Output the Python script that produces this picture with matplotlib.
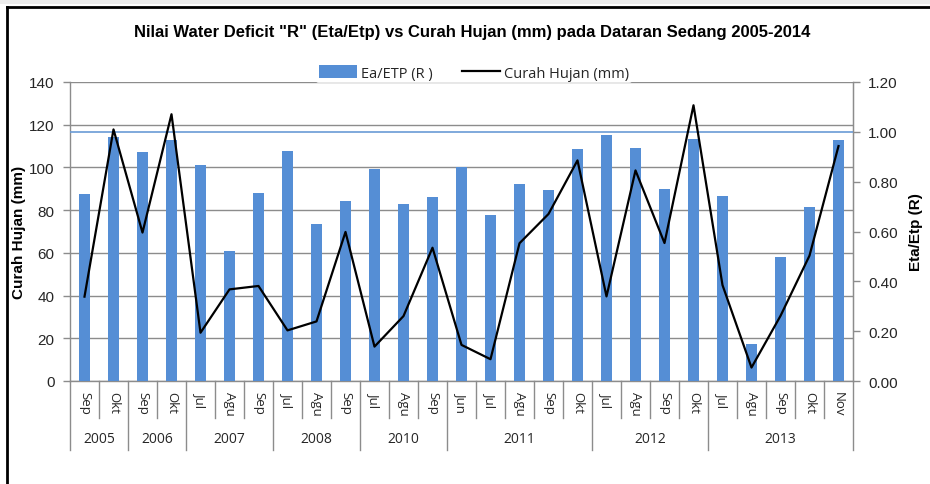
import matplotlib
matplotlib.use("Agg")
import matplotlib.pyplot as plt
from matplotlib.lines import Line2D
from matplotlib.patches import Rectangle
import matplotlib.transforms as mtransforms
import numpy as np

# ---------------- data ----------------
months = ["Sep", "Okt", "Sep", "Okt", "Jul", "Agu", "Sep", "Jul", "Agu", "Sep",
          "Jul", "Agu", "Sep", "Jun", "Jul", "Agu", "Sep", "Okt",
          "Jul", "Agu", "Sep", "Okt", "Jul", "Agu", "Sep", "Okt", "Nov"]
years = ["2005", "2006", "2007", "2008", "2010", "2011", "2012", "2013"]
year_counts = [2, 2, 3, 3, 3, 5, 4, 5]
ratio_R = [0.75, 0.978, 0.92, 0.967, 0.867, 0.523, 0.754, 0.924, 0.631, 0.722,
           0.851, 0.709, 0.74, 0.859, 0.665, 0.792, 0.768, 0.930,
           0.987, 0.935, 0.772, 0.972, 0.743, 0.150, 0.497, 0.699, 0.968]
rain_mm = [39.5, 117.8, 69.5, 124.9, 22.6, 42.9, 44.5, 23.7, 27.9, 69.8,
           16.1, 30.4, 62.4, 16.9, 10.2, 64.5, 78.2, 103.3,
           39.6, 98.6, 64.6, 129.1, 44.9, 6.3, 30.5, 58.7, 110.0]
left_ticks = [0, 20, 40, 60, 80, 100, 120, 140]
right_ticks = [0.0, 0.2, 0.4, 0.6, 0.8, 1.0, 1.2]
ref_R = 1.0

title = 'Nilai Water Deficit "R" (Eta/Etp) vs Curah Hujan (mm) pada Dataran Sedang 2005-2014'

# ---------------- style ----------------
BAR = "#558ED5"
GRID = "#8C8C8C"
TXT = "#262626"
plt.rcParams["font.family"] = ["Liberation Sans", "DejaVu Sans"]

W, H = 930, 485
fig = plt.figure(figsize=(W / 100, H / 100), dpi=100)

L, R_, B, T = 70, 853, 382, 83
ax = fig.add_axes([L / W, 1 - B / H, (R_ - L) / W, (B - T) / H])
ax2 = ax.twinx()
ax3 = ax.twinx()

n = len(months)
x = np.arange(n)

# left axis (mm) with grid
ax.set_xlim(-0.5, n - 0.5)
ax.set_ylim(0, 140)
ax.set_yticks(left_ticks)
ax.set_yticklabels([str(v) for v in left_ticks], fontsize=11, color=TXT)
ax.yaxis.grid(True, color=GRID, lw=1.0)
ax.set_axisbelow(True)
ax.tick_params(axis="y", length=5, color=GRID, width=1, pad=6)
ax.set_xticks([])
ax.spines["top"].set_visible(False)
for s in ["left", "right", "bottom"]:
    ax.spines[s].set_color(GRID)
    ax.spines[s].set_linewidth(1.0)
ax.set_ylabel("Curah Hujan (mm)", fontsize=11, fontweight="bold", color="black", labelpad=2)

# right axis (R) with bars
ax2.set_ylim(0, 1.2)
ax2.bar(x, ratio_R, width=0.38, color=BAR, zorder=2, label="Ea/ETP (R )")
ax2.axhline(ref_R, color="#6A9BD6", lw=1.2, zorder=1)
ax2.set_yticks(right_ticks)
ax2.set_yticklabels([f"{v:.2f}" for v in right_ticks], fontsize=11, color=TXT)
ax2.tick_params(axis="y", length=5, color=GRID, width=1, pad=6)
for s in ["top", "left", "bottom"]:
    ax2.spines[s].set_visible(False)
ax2.spines["right"].set_color(GRID)
ax2.set_ylabel("Eta/Etp (R)", fontsize=11, fontweight="bold", color="black", labelpad=8)

# line on left scale
ax3.set_ylim(0, 140)
ax3.plot(x, rain_mm, color="black", lw=1.6, zorder=3, label="Curah Hujan (mm)")
ax3.set_yticks([])
for s in ax3.spines.values():
    s.set_visible(False)

# category axis: month labels, year labels, separators
trans = mtransforms.blended_transform_factory(ax.transData, ax.transAxes)
h_ax = B - T
y_short = -(419 - B) / h_ax
y_long = -(451 - B) / h_ax
for i, m in enumerate(months):
    ax.text(i, -(392 - B) / h_ax, m, transform=trans, rotation=-90, ha="center", va="top",
            fontsize=9.5, color=TXT, family=["Open Sans", "DejaVu Sans"])
bounds = np.cumsum([0] + year_counts)
group_edges = set(bounds.tolist())
for k in range(n + 1):
    yb = y_long if k in group_edges else y_short
    ax.add_line(Line2D([k - 0.5, k - 0.5], [0, yb], transform=trans, color=GRID,
                       lw=1.0, clip_on=False))
for yr, a, b in zip(years, bounds[:-1], bounds[1:]):
    ax.text((a + b - 1) / 2, -(440 - B) / h_ax, yr, transform=trans, ha="center", va="center",
            fontsize=10, color=TXT, family=["Open Sans", "DejaVu Sans"])

# legend
h1, l1 = ax2.get_legend_handles_labels()
h2, l2 = ax3.get_legend_handles_labels()
leg = ax3.legend(h1 + h2, l1 + l2, loc="center", bbox_to_anchor=(474 / W, 1 - 74 / H),
                 bbox_transform=fig.transFigure, ncol=2, frameon=True,
                 handlelength=2.6, handleheight=0.9, columnspacing=2.0, handletextpad=0.3,
                 borderpad=0.2, prop={"family": ["Open Sans", "DejaVu Sans"], "size": 10.5})
leg.get_frame().set_facecolor("white")
leg.get_frame().set_edgecolor("none")
for t in leg.get_texts():
    t.set_color(TXT)

# title
fig.text(472 / W, 1 - 33 / H, title, ha="center", va="center", fontsize=12, fontweight="bold",
         family=["Liberation Sans Narrow", "Liberation Sans", "DejaVu Sans"], color="black")

# outer border (left and top only) and top grey band
fig.add_artist(Rectangle((0, 1 - 5 / H), 1, 5 / H, transform=fig.transFigure,
                         facecolor="#EDEDED", edgecolor="none"))
fig.add_artist(Line2D([6.5 / W, 6.5 / W], [0, 1 - 7.5 / H], transform=fig.transFigure,
                      color="black", lw=2.0))
fig.add_artist(Line2D([6.5 / W, 1], [1 - 7.5 / H, 1 - 7.5 / H], transform=fig.transFigure,
                      color="black", lw=2.0))

fig.savefig("out.png", dpi=100)
